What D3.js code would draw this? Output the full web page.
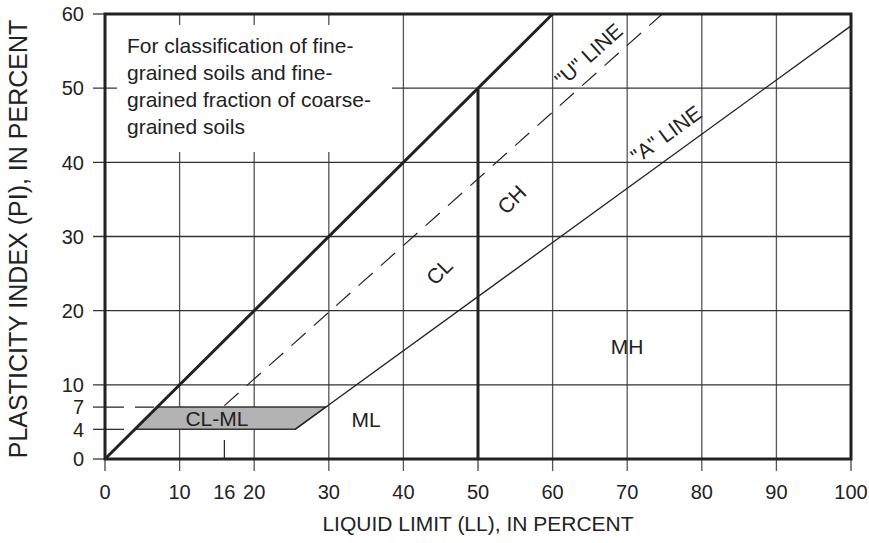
<!DOCTYPE html>
<html>
<head>
<meta charset="utf-8">
<script src="https://cdn.jsdelivr.net/npm/d3@7"></script>
<style>
  body { margin: 0; background: #fff; }
  text { font-family: "Liberation Sans", Arial, sans-serif; fill: #222; }
</style>
</head>
<body>
<div class="chart"></div>
<script>
// tick values and grid
var xTicks = [0, 10, 16, 20, 30, 40, 50, 60, 70, 80, 90, 100];
var yTicks = [0, 4, 7, 10, 20, 30, 40, 50, 60];
var xGrid = [10, 20, 30, 40, 60, 70, 80, 90];
var yGrid = [10, 20, 30, 40, 50];

// chart lines [LL, PI]
var equalLine = [[0, 0], [60, 60]];
var llFifty = [[50, 0], [50, 50]];
var aLine = [[25.5, 4], [100, 58.4]];
var uLine = [[16, 7.2], [74.7, 60]];
var llSixteen = [[16, 0], [16, 7]];
var piFour = [[0, 4], [4, 4]];
var piSeven = [[0, 7], [7, 7]];
var clmlZone = [[4, 4], [25.5, 4], [29.6, 7], [7, 7]];

// zone labels
var zoneNames = ["CL-ML", "ML", "MH", "CL", "CH", "\"U\" LINE", "\"A\" LINE"];
var zoneLL = [15, 35, 70, 44.8, 54.5, 64.8, 75.2];
var zonePI = [5.5, 5.4, 15.2, 25.3, 35, 54.5, 43.8];
var zoneAngle = [0, 0, 0, -45, -45, -41.8, -36];

var noteLines = ["For classification of fine-", "grained soils and fine-",
  "grained fraction of coarse-", "grained soils"];

var svgWidth = 869;
var svgHeight = 543;
var margin = { top: 14, right: 18, bottom: 84, left: 105 };

var svg = d3.select(".chart")
  .append("svg")
  .attr("width", svgWidth)
  .attr("height", svgHeight);

var x = d3.scaleLinear().domain([0, 100]).range([margin.left, svgWidth - margin.right]);
var y = d3.scaleLinear().domain([0, 60]).range([svgHeight - margin.bottom, margin.top]);
var line = d3.line().x(d => x(d[0])).y(d => y(d[1]));

// grid lines, with ticks sticking out past the axes
svg.append("g").selectAll("line")
  .data(xGrid)
  .enter().append("line")
  .attr("x1", d => x(d)).attr("x2", d => x(d))
  .attr("y1", y(0) + 12).attr("y2", y(60))
  .attr("stroke", "#555").attr("stroke-width", 1.3);

svg.append("g").selectAll("line")
  .data(yGrid)
  .enter().append("line")
  .attr("x1", x(0) - 12).attr("x2", x(100))
  .attr("y1", d => y(d)).attr("y2", d => y(d))
  .attr("stroke", "#333").attr("stroke-width", 1.3);

// small ticks for 0, 4, 7 and x=0, 100
svg.append("g").selectAll("line")
  .data([0, 4, 7, 60])
  .enter().append("line")
  .attr("x1", x(0) - 12).attr("x2", x(0))
  .attr("y1", d => y(d)).attr("y2", d => y(d))
  .attr("stroke", "#333").attr("stroke-width", 1.3);
svg.append("g").selectAll("line")
  .data([0, 50, 100])
  .enter().append("line")
  .attr("x1", d => x(d)).attr("x2", d => x(d))
  .attr("y1", y(0)).attr("y2", y(0) + 12)
  .attr("stroke", "#444").attr("stroke-width", 1.3);

// note box hides grid behind it
svg.append("rect")
  .attr("x", 117).attr("y", 25)
  .attr("width", 275).attr("height", 127)
  .attr("fill", "#fff");

svg.append("g").selectAll("text")
  .data(noteLines)
  .enter().append("text")
  .attr("x", 127)
  .attr("y", (d, i) => 53 + i * 27)
  .attr("font-size", 21)
  .text(d => d);

// dashed guides
var dashed = [piFour, piSeven, llSixteen, uLine];
svg.append("g").selectAll("path")
  .data(dashed)
  .enter().append("path")
  .attr("d", line)
  .attr("fill", "none")
  .attr("stroke", "#222")
  .attr("stroke-width", 1.2)
  .attr("stroke-dasharray", "19,11");

// CL-ML zone
svg.append("path")
  .attr("d", line(clmlZone) + "Z")
  .attr("fill", "#b3b3b3")
  .attr("stroke", "#333")
  .attr("stroke-width", 1.5);

// A line
svg.append("path")
  .attr("d", line(aLine))
  .attr("fill", "none")
  .attr("stroke", "#222")
  .attr("stroke-width", 1.3);

// thick lines
svg.append("g").selectAll("path")
  .data([equalLine, llFifty])
  .enter().append("path")
  .attr("d", line)
  .attr("fill", "none")
  .attr("stroke", "#222")
  .attr("stroke-width", 3);

// frame
svg.append("rect")
  .attr("x", x(0)).attr("y", y(60))
  .attr("width", x(100) - x(0)).attr("height", y(0) - y(60))
  .attr("fill", "none")
  .attr("stroke", "#222")
  .attr("stroke-width", 3);

// tick labels
svg.append("g").selectAll("text")
  .data(xTicks)
  .enter().append("text")
  .attr("x", d => x(d))
  .attr("y", 499)
  .attr("text-anchor", "middle")
  .attr("font-size", 20)
  .text(d => d);

svg.append("g").selectAll("text")
  .data(yTicks)
  .enter().append("text")
  .attr("x", 84)
  .attr("y", d => y(d))
  .attr("dy", "0.36em")
  .attr("text-anchor", "end")
  .attr("font-size", 20)
  .text(d => d);

// zone labels
svg.append("g").selectAll("text")
  .data(zoneNames)
  .enter().append("text")
  .attr("transform", (d, i) => `translate(${x(zoneLL[i])}, ${y(zonePI[i])}) rotate(${zoneAngle[i]})`)
  .attr("text-anchor", "middle")
  .attr("dy", "0.36em")
  .attr("font-size", 21)
  .text(d => d);

// axis titles
svg.append("text")
  .attr("x", 478)
  .attr("y", 531)
  .attr("text-anchor", "middle")
  .attr("font-size", 21)
  .text("LIQUID LIMIT (LL), IN PERCENT");

svg.append("text")
  .attr("transform", `translate(27, 239) rotate(-90)`)
  .attr("text-anchor", "middle")
  .attr("font-size", 25)
  .text("PLASTICITY INDEX (PI), IN PERCENT");
</script>
</body>
</html>
